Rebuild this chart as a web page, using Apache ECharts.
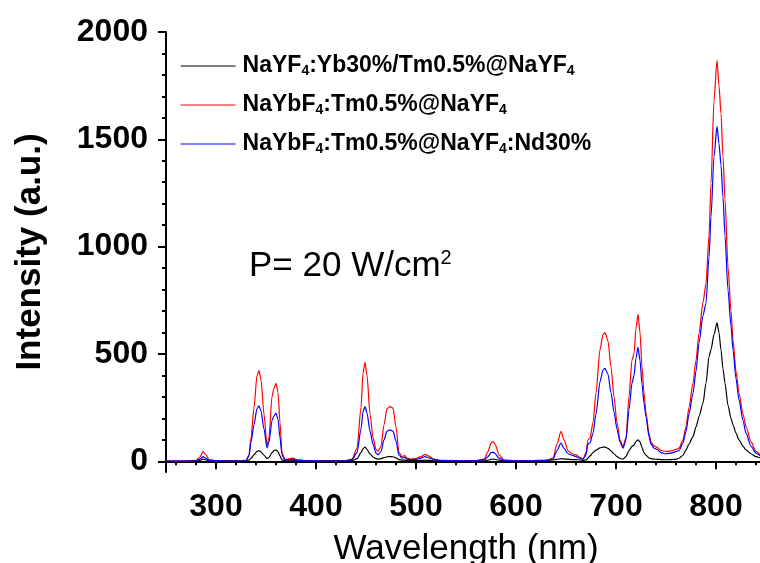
<!DOCTYPE html>
<html><head><meta charset="utf-8">
<script src="https://cdn.jsdelivr.net/npm/echarts@6/dist/echarts.min.js"></script>
<style>html,body{margin:0;padding:0;background:#fff}#c{width:760px;height:563px}</style>
</head><body><div id="c"></div>
<script>
const seriesNames = ['NaYF4:Yb30%/Tm0.5%@NaYF4', 'NaYbF4:Tm0.5%@NaYF4', 'NaYbF4:Tm0.5%@NaYF4:Nd30%'];
const seriesColors = ['#000000', '#ff0000', '#0000ff'];
const wavelength = [250,270,280,284,287,290,293,300,320,330,333,335,338,341,343,345,348,351,353,356,358,360,362,364,366,369,374,377,380,390,430,436,441,445,447,449,451,454,457,460,462,465,468,471,474,477,480,483,486,489,491,495,500,505,509,513,518,525,560,568,572,575,577,579,583,588,600,630,637,641,645,648,652,656,660,664,667,670,672,674,677,680,684,687,689,692,695,698,701,704,707,710,713,716,718,720,722,724,726,728,730,733,735,738,741,745,750,755,760,763,767,770,773,777,780,783,787,790,793,795,798,801,803,805,807,809,812,815,817,820,823,827,830,835,840,845,850];
const redValues = [2,2,4,20,45,30,8,3,3,4,30,108,250,400,422,380,220,75,110,301,340,363,320,180,40,8,12,15,8,3,3,10,60,250,410,461,400,220,110,55,46,70,170,245,255,248,160,40,22,26,14,10,12,22,32,24,10,4,3,10,45,85,92,80,30,6,3,4,15,80,139,100,50,35,30,18,10,40,100,108,180,320,520,590,599,560,440,300,180,100,69,110,300,472,500,620,684,600,440,320,224,130,90,72,65,50,46,48,55,61,100,162,250,364,470,596,740,829,1050,1294,1681,1867,1750,1620,1420,1220,906,700,565,420,317,220,162,90,46,30,20];
const blueValues = [1,1,2,10,22,14,4,2,2,3,25,90,170,245,258,235,150,62,90,190,212,224,195,110,30,6,8,10,6,2,2,8,40,150,230,255,225,140,80,38,30,45,100,140,146,140,95,28,15,18,10,8,9,15,22,16,7,3,2,6,22,40,43,36,15,4,2,3,10,50,85,60,35,28,22,14,10,30,80,85,130,220,370,425,433,405,320,230,150,90,61,100,240,364,400,480,531,470,360,270,208,115,80,61,55,40,35,38,45,50,85,139,220,317,420,550,680,736,950,1138,1420,1560,1480,1380,1230,1050,797,630,518,385,286,190,131,70,38,25,16];
const blackValues = [0,0,1,4,10,6,2,1,1,1,5,14,30,46,50,44,28,13,18,40,50,53,45,25,6,2,2,3,2,1,1,3,12,40,58,66,55,34,20,12,10,12,17,21,22,21,16,8,5,5,4,3,3,4,5,4,2,1,1,2,5,9,10,9,5,2,2,4,6,9,12,11,9,8,8,6,4,6,15,25,40,52,62,66,66,60,48,35,22,14,10,22,50,69,75,92,100,90,65,40,28,16,12,10,9,8,7,8,9,14,28,53,80,115,160,208,271,364,487,520,590,645,600,518,430,364,260,200,170,131,100,70,53,35,22,15,10];
const xTickLabels = [300,400,500,600,700,800];
const xMinorTicks = [260,280,320,340,360,380,420,440,460,480,520,540,560,580,620,640,660,680,720,740,760,780,820,840];
const yTickLabels = [0,500,1000,1500,2000];
const yMinorTicks = [100,200,300,400,600,700,800,900,1100,1200,1300,1400,1600,1700,1800,1900];

const FONT = 'Arial, "Liberation Sans", sans-serif';
const chart = echarts.init(document.getElementById('c'), null, {renderer: 'canvas'});
const valueSets = [blackValues, redValues, blueValues];
const series = seriesNames.map((name, i) => ({
  name: name,
  type: 'line',
  xAxisIndex: 0,
  yAxisIndex: 0,
  data: wavelength.map((w, j) => [w, valueSets[i][j]]),
  symbol: 'none',
  smooth: 0.25,
  smoothMonotone: 'x',
  color: seriesColors[i],
  lineStyle: {color: seriesColors[i], width: 1.2},
  itemStyle: {color: seriesColors[i]},
  silent: true
}));

function legendFmt(name) {
  return name.split('F4').join('F{s|4}');
}
const plainNum = v => String(v);

const axisLineStyle = {color: '#000', width: 2};
chart.setOption({
  animation: false,
  backgroundColor: '#fff',
  grid: {left: 166, top: 32, width: 600, height: 440, containLabel: false, outerBoundsMode: 'none'},
  legend: {
    orient: 'vertical',
    left: 180,
    top: 54,
    padding: 0,
    itemWidth: 55,
    itemHeight: 24,
    itemGap: 15,
    selectedMode: false,
    formatter: legendFmt,
    itemStyle: {opacity: 0},
    lineStyle: {width: 1.2},
    textStyle: {
      fontFamily: FONT, fontSize: 23, fontWeight: 'bold', color: '#000', lineHeight: 24,
      padding: [0, 0, 0, 2],
      rich: {s: {fontFamily: FONT, fontSize: 14, fontWeight: 'bold', color: '#000', lineHeight: 1, verticalAlign: 'bottom'}}
    },
    data: seriesNames
  },
  xAxis: [
    {
      type: 'value', min: 250, max: 850, position: 'bottom',
      name: 'Wavelength (nm)', nameLocation: 'middle', nameGap: 60,
      nameTextStyle: {fontFamily: FONT, fontSize: 35, color: '#000'},
      axisLine: {show: true, lineStyle: axisLineStyle},
      axisTick: {show: true, inside: false, length: 8, lineStyle: {color: '#000', width: 2}, customValues: xTickLabels},
      axisLabel: {show: true, margin: 19, fontFamily: FONT, fontSize: 32, fontWeight: 'bold', color: '#000', customValues: xTickLabels, formatter: plainNum},
      splitLine: {show: false}
    },
    {
      type: 'value', min: 250, max: 850, position: 'bottom',
      axisLine: {show: false},
      axisTick: {show: true, inside: false, length: 4, lineStyle: {color: '#000', width: 2}, customValues: xMinorTicks},
      axisLabel: {show: false},
      splitLine: {show: false}
    },
    {
      type: 'value', min: 250, max: 850, position: 'top',
      axisLine: {show: true, lineStyle: axisLineStyle},
      axisTick: {show: false}, axisLabel: {show: false}, splitLine: {show: false}
    }
  ],
  yAxis: [
    {
      type: 'value', min: -50, max: 2000, position: 'left',
      name: 'Intensity (a.u.)', nameLocation: 'middle', nameGap: 118,
      nameTextStyle: {fontFamily: FONT, fontSize: 35, fontWeight: 'bold', color: '#000'},
      axisLine: {show: true, lineStyle: axisLineStyle},
      axisTick: {show: true, inside: false, length: 8, lineStyle: {color: '#000', width: 2}, customValues: yTickLabels},
      axisLabel: {show: true, margin: 18, fontFamily: FONT, fontSize: 32, fontWeight: 'bold', color: '#000', customValues: yTickLabels, formatter: plainNum},
      splitLine: {show: false}
    },
    {
      type: 'value', min: -50, max: 2000, position: 'left',
      axisLine: {show: false},
      axisTick: {show: true, inside: false, length: 4, lineStyle: {color: '#000', width: 2}, customValues: yMinorTicks},
      axisLabel: {show: false},
      splitLine: {show: false}
    },
    {
      type: 'value', min: -50, max: 2000, position: 'right',
      axisLine: {show: true, lineStyle: axisLineStyle},
      axisTick: {show: false}, axisLabel: {show: false}, splitLine: {show: false}
    }
  ],
  graphic: [{
    type: 'text', left: 249, top: 248,
    style: {
      text: '{a|P= 20 W/cm}{b|2}',
      fill: '#000',
      rich: {
        a: {fontFamily: FONT, fontSize: 35, lineHeight: 36, fill: '#000'},
        b: {fontFamily: FONT, fontSize: 20, lineHeight: 17, verticalAlign: 'top', fill: '#000'}
      }
    }
  }],
  series: series
});
</script></body></html>
